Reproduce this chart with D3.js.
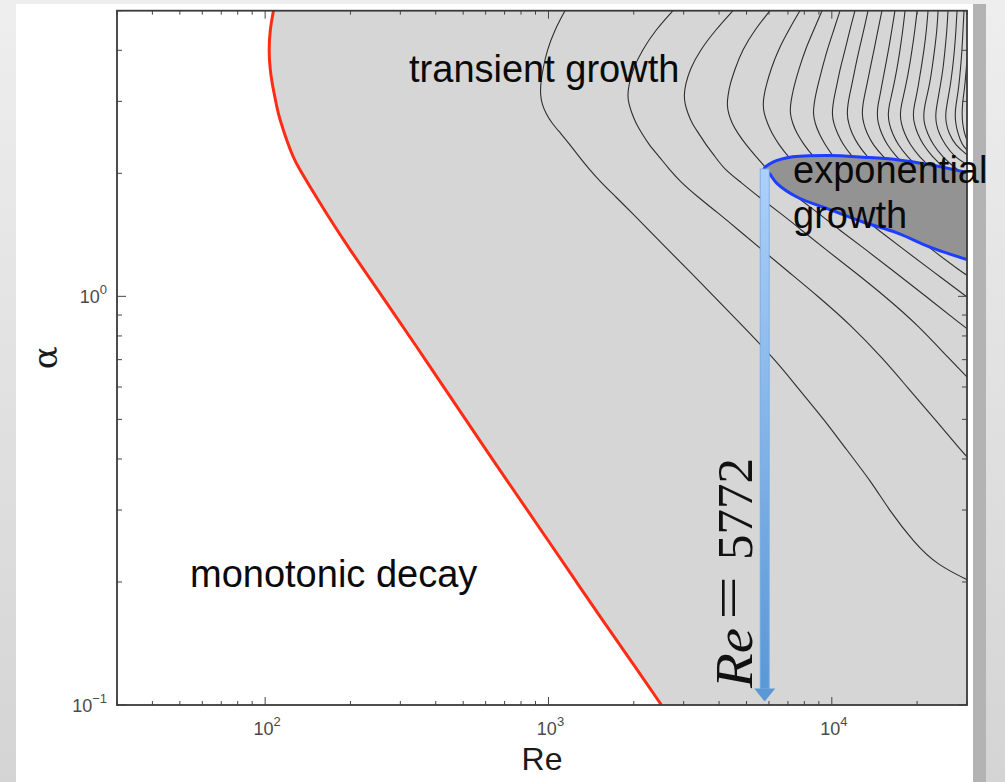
<!DOCTYPE html>
<html><head><meta charset="utf-8">
<script src="https://cdn.jsdelivr.net/npm/d3@7"></script>
<style>
html,body{margin:0;padding:0;}
body{width:1005px;height:782px;overflow:hidden;background:linear-gradient(180deg,#eeeeee,#d4d4d4);}
svg{display:block;}
</style></head><body>
<svg id="chart" width="1005" height="782"></svg>
<script>
// ---------- data ----------
const xDomain = [30, 30000];
const yDomain = [0.1, 5];
const xMajorTicks = [100, 1000, 10000];
const xMajorExponents = ["2", "3", "4"];
const yMajorTicks = [0.1, 1];
const yMajorExponents = ["\u22121", "0"];
const xAxisTitle = "Re";
const yAxisTitle = "\u03b1";

// energy-stability boundary (red)  [Re, alpha]
const redBoundary = [[107,5],[104,4.5],[103,4],[104,3.6],[106,3.3],[108,3.1],[111,2.8],[117,2.5],[125,2.2],[132,2.05],[141,1.9],[164,1.6],[199,1.3],[259,1.0],[368,0.7],[509,0.5],[722,0.35],[1008,0.25],[1255,0.2],[1563,0.16],[1931,0.13],[2504,0.1]];

// neutral curve (blue), upper and lower branch  [Re, alpha]
const neutralUpper = [[5772,2.05],[6200,2.13],[7120,2.19],[9850,2.21],[12880,2.19],[16980,2.16],[22200,2.10],[30000,2.01]];
const neutralLower = [[5772,2.05],[6010,2.00],[6400,1.89],[7530,1.75],[9850,1.63],[12880,1.52],[16980,1.43],[22200,1.32],[30000,1.23]];

// transient-growth contours  [Re, alpha]
const contourA = [[1144,5],[1054,4.5],[988,4],[956,3.6],[937,3.3],[937,3.1],[949,2.95],[980,2.8],[1029,2.65],[1107,2.5],[1191,2.35],[1281,2.2],[1390,2.05],[1532,1.9],[1731,1.75],[1971,1.6],[2263,1.45],[2641,1.3],[3158,1.15],[3838,1.0],[4819,0.85],[6302,0.7],[7537,0.6],[9385,0.5],[11310,0.42],[13866,0.35],[15918,0.3],[19498,0.25],[23500,0.22],[31250,0.2]];
const contourB = [[2750,5],[2396,4.5],[2138,4],[1987,3.6],[1923,3.3],[1900,3.1],[1923,2.95],[1971,2.8],[2036,2.65],[2138,2.5],[2263,2.35],[2455,2.2],[2662,2.05],[2935,1.9],[3369,1.75],[3964,1.6],[4705,1.45],[5668,1.3],[7006,1.15],[8942,1.0],[11682,0.85],[15275,0.7],[18430,0.6],[23135,0.5],[28575,0.42],[31760,0.387]];
const contourC = [[4478,5],[3900,4.5],[3425,4],[3158,3.6],[3044,3.3],[3007,3.1],[3032,2.95],[3107,2.8],[3209,2.65],[3397,2.5],[3596,2.35],[3869,2.2],[4162,2.05],[4782,1.9],[5531,1.75],[6565,1.6],[7845,1.45],[9540,1.3],[11990,1.15],[15400,1.0],[20150,0.85],[26130,0.7],[31000,0.62]];
const contourD = [[6049,5],[5358,4.5],[4820,4],[4552,3.6],[4370,3.3],[4300,3.1],[4265,2.95],[4317,2.8],[4442,2.65],[4667,2.5],[4980,2.35],[5397,2.2],[5903,2.05],[6459,1.9],[7533,1.75],[8942,1.6],[10689,1.45],[13205,1.3],[16570,1.15],[21505,1.0],[28806,0.85],[31000,0.82]];
const contourE = [[7718,5],[7063,4.5],[6459,4],[6098,3.6],[5879,3.3],[5761,3.1],[5714,2.95],[5761,2.8],[5931,2.65],[6148,2.5],[6511,2.35],[7000,2.2],[7718,2.05],[8798,1.9],[10263,1.75],[12167,1.6],[14676,1.45],[17985,1.3],[22763,1.15],[31000,0.98]];
const contourF = [[9237,5],[8655,4.5],[8039,4],[7657,3.6],[7385,3.3],[7237,3.1],[7150,2.95],[7120,2.8],[7267,2.65],[7533,2.5],[7974,2.35],[8586,2.2],[9540,2.05],[11043,1.9],[12880,1.75],[15275,1.6],[18430,1.45],[22579,1.3],[28575,1.15],[31000,1.11]];
const contourG = [[10689,5],[10180,4.5],[9617,4],[9237,3.6],[8942,3.3],[8761,3.1],[8655,2.95],[8586,2.8],[8725,2.65],[9015,2.5],[9462,2.35],[10098,2.2],[11043,2.05],[12671,1.9],[14795,1.75],[17410,1.6],[20982,1.45],[25706,1.3],[30000,1.25]];
const contourH = [[12069,5],[11587,4.5],[11133,4],[10689,3.6],[10432,3.3],[10222,3.1],[10098,2.95],[10016,2.8],[10140,2.65],[10474,2.5],[10953,2.35],[11778,2.2],[12984,2.05],[14795,1.9],[17117,1.75],[20312,1.6],[24490,1.45],[30000,1.33]];
const contourI = [[13420,5],[12984,4.5],[12468,4],[12069,3.6],[11778,3.3],[11540,3.1],[11400,2.95],[11310,2.8],[11445,2.65],[11778,2.5],[12366,2.35],[13311,2.2],[14676,2.05],[16704,1.9],[19500,1.75],[23135,1.6],[30000,1.42]];
const contourJ = [[15028,5],[14557,4.5],[14092,4],[13640,3.6],[13311,3.3],[13043,3.1],[12880,2.95],[12775,2.8],[12932,2.65],[13311,2.5],[13970,2.35],[15152,2.2],[16840,2.05],[19344,1.9],[22579,1.75],[26776,1.6],[30000,1.51]];
const contourK = [[16704,5],[16302,4.5],[15845,4],[15400,3.6],[15028,3.3],[14795,3.1],[14557,2.95],[14440,2.8],[14557,2.65],[14977,2.5],[15653,2.35],[16840,2.2],[18730,2.05],[21331,1.9],[24895,1.75],[30000,1.609]];
const contourL = [[18135,5],[17820,4.5],[17410,4],[16978,3.6],[16570,3.3],[16238,3.1],[15970,2.95],[15780,2.8],[15910,2.65],[16368,2.5],[17117,2.35],[18430,2.2],[20480,2.05],[23135,1.9],[26773,1.75],[30000,1.65]];
const contourM = [[20000,5],[19660,4.5],[19188,4],[18730,3.6],[18280,3.3],[17915,3.1],[17622,2.95],[17410,2.8],[17550,2.65],[18060,2.5],[18884,2.35],[20312,2.2],[22579,2.05],[25706,1.9],[30000,1.77]];
const contourN = [[21860,5],[21593,4.5],[21157,4],[20644,3.6],[20230,3.3],[19900,3.1],[19580,2.95],[19344,2.8],[19500,2.65],[20065,2.5],[20982,2.35],[22579,2.2],[25085,2.05],[30000,1.87]];
const contourO = [[23710,5],[23520,4.5],[23045,4],[22579,3.6],[22130,3.3],[21680,3.1],[21331,2.95],[21072,2.8],[21157,2.65],[21765,2.5],[22763,2.35],[24490,2.2],[27440,2.05],[30000,1.97]];
const contourP = [[25706,5],[25498,4.5],[25085,4],[24690,3.6],[24195,3.3],[23810,3.1],[23520,2.95],[23232,2.8],[23323,2.65],[23905,2.5],[25085,2.35],[26993,2.2],[30000,2.10]];
const contourQ = [[27662,5],[27440,4.5],[27104,4],[26663,3.6],[26233,3.3],[25810,3.1],[25498,2.95],[25189,2.8],[25290,2.65],[25920,2.5],[27216,2.35],[30000,2.22]];
const contourR = [[29280,5],[29045,4.5],[28806,4],[28456,3.6],[28114,3.3],[27773,3.1],[27440,2.95],[27216,2.8],[27330,2.65],[27886,2.5],[28806,2.35],[30000,2.28]];
const contourS = [[30000,3.79],[29520,3.3],[29163,3.1],[28925,2.95],[28806,2.8],[28925,2.65],[29400,2.5],[30000,2.41]];
const contours = [contourA,contourB,contourC,contourD,contourE,contourF,contourG,contourH,contourI,contourJ,contourK,contourL,contourM,contourN,contourO,contourP,contourQ,contourR,contourS];

// critical Reynolds number marker
const criticalRe = 5772;
const arrowTopAlpha = 2.05;
const arrowTipAlpha = 0.102;

// region labels [text, Re, alpha]
const regionLabels = [["transient growth", 322, 3.35],["monotonic decay", 54.3, 0.1945],["exponential", 7296, 1.894],["growth", 7296, 1.47]];

// ---------- drawing ----------
const svg = d3.select("#chart");
const P = {left:117, right:967, top:10.7, bottom:705};
const x = d3.scaleLog().domain(xDomain).range([P.left, P.right]);
const y = d3.scaleLog().domain(yDomain).range([P.bottom, P.top]);

const defs = svg.append("defs");
defs.append("clipPath").attr("id","plotClip").append("rect")
  .attr("x",P.left).attr("y",P.top).attr("width",P.right-P.left).attr("height",P.bottom-P.top);
const grad = defs.append("linearGradient").attr("id","arrowGrad").attr("x1",0).attr("y1",0).attr("x2",0).attr("y2",1);
grad.append("stop").attr("offset","0%").attr("stop-color","#acd0fa");
grad.append("stop").attr("offset","100%").attr("stop-color","#5a98d6");

// slide card + shadow strip
svg.append("rect").attr("x",16).attr("y",4).attr("width",957).attr("height",778).attr("fill","#ffffff");
svg.append("rect").attr("x",973).attr("y",4).attr("width",13).attr("height",778).attr("fill","#b3b3b3");

const plot = svg.append("g").attr("clip-path","url(#plotClip)");

// transient growth region
const areaRight = d3.area().curve(d3.curveBasis)
  .y(d => y(d[1])).x0(d => x(d[0])).x1(P.right + 5);
plot.append("path").datum(redBoundary).attr("d", areaRight).attr("fill","#d6d6d6");

const smooth = d3.line().curve(d3.curveBasis).x(d => x(d[0])).y(d => y(d[1]));
const line = d3.line().curve(d3.curveCatmullRom.alpha(0.5)).x(d => x(d[0])).y(d => y(d[1]));

// contours
plot.selectAll("path.contour").data(contours).join("path")
  .attr("class","contour").attr("d", smooth)
  .attr("fill","none").attr("stroke","#2e2e2e").attr("stroke-width",1.1);

// exponential growth region
const neutral = [...neutralUpper.slice().reverse(), ...neutralLower.slice(1)];
plot.append("path").attr("d", line(neutral) + "Z").attr("fill","#939393");
plot.append("path").attr("d", line(neutral)).attr("fill","none").attr("stroke","#1d3dff").attr("stroke-width",3);

// red boundary
plot.append("path").datum(redBoundary).attr("d", smooth).attr("fill","none")
  .attr("stroke","#ff2b14").attr("stroke-width",3);

// ticks (inward, mirrored)
const isMajor = v => Math.abs(Math.log10(v) - Math.round(Math.log10(v))) < 1e-6;
const tg = svg.append("g").attr("stroke","#444").attr("stroke-width",1);
x.ticks().forEach(v => {
  const L = isMajor(v) ? 8 : 4, px = x(v);
  tg.append("line").attr("x1",px).attr("x2",px).attr("y1",P.bottom).attr("y2",P.bottom-L);
  tg.append("line").attr("x1",px).attr("x2",px).attr("y1",P.top).attr("y2",P.top+L);
});
y.ticks().forEach(v => {
  const L = isMajor(v) ? 9 : 5, py = y(v);
  tg.append("line").attr("y1",py).attr("y2",py).attr("x1",P.left).attr("x2",P.left+L);
  tg.append("line").attr("y1",py).attr("y2",py).attr("x1",P.right).attr("x2",P.right-L);
});

// frame
svg.append("rect").attr("x",P.left).attr("y",P.top).attr("width",P.right-P.left).attr("height",P.bottom-P.top)
  .attr("fill","none").attr("stroke","#3a3a3a").attr("stroke-width",1.8);

// tick labels
const lblFont = "'Liberation Sans', Arial, sans-serif";
xMajorTicks.forEach((v,i) => {
  const t = svg.append("text").attr("x", x(v)+2).attr("y", 735).attr("text-anchor","middle")
    .attr("font-family", lblFont).attr("font-size",18).attr("fill","#4a4a4a");
  t.append("tspan").text("10");
  t.append("tspan").attr("dy",-9).attr("font-size",13).text(xMajorExponents[i]);
});
yMajorTicks.forEach((v,i) => {
  const t = svg.append("text").attr("x", 107).attr("y", y(v)+6.5).attr("text-anchor","end")
    .attr("font-family", lblFont).attr("font-size",18).attr("fill","#4a4a4a");
  t.append("tspan").text("10");
  t.append("tspan").attr("dy",-9).attr("font-size",13).text(yMajorExponents[i]);
});

// axis titles
svg.append("text").attr("x",(P.left+P.right)/2).attr("y",770).attr("text-anchor","middle")
  .attr("font-family",lblFont).attr("font-size",32).attr("fill","#1a1a1a").text(xAxisTitle);
svg.append("text").attr("transform",`translate(57,${(P.top+P.bottom)/2}) rotate(-90)`).attr("text-anchor","middle")
  .attr("font-family","'DejaVu Serif', serif").attr("font-size",34).attr("fill","#1a1a1a").text(yAxisTitle);

// arrow at critical Re
const ax = x(criticalRe), ay0 = y(arrowTopAlpha), ay1 = y(arrowTipAlpha);
const headH = 13, headW = 10.5, shaftW = 9;
svg.append("rect").attr("x", ax - shaftW/2 + 0.5).attr("y", ay0).attr("width", shaftW).attr("height", ay1 - headH - ay0)
  .attr("fill","url(#arrowGrad)").attr("stroke","#79a7df").attr("stroke-width",0.8);
svg.append("path").attr("d", `M${ax-headW+0.5},${ay1-headH} L${ax+headW+0.5},${ay1-headH} L${ax+0.5},${ay1} Z`)
  .attr("fill","#5a98d6");

// Re = 5772 label (rotated)
const rg = svg.append("g").attr("transform",`translate(752,688) rotate(-90)`).attr("fill","#111");
rg.append("text").attr("x",0).attr("y",0).attr("font-family","'Liberation Serif', 'Times New Roman', serif")
  .attr("font-style","italic").attr("font-size",52).attr("textLength",60).attr("lengthAdjust","spacingAndGlyphs").text("Re");
rg.append("text").attr("x",68).attr("y",-6).attr("font-family","'Liberation Serif', serif")
  .attr("font-size",52).attr("textLength",44).attr("lengthAdjust","spacingAndGlyphs").text("=");
rg.append("text").attr("x",128).attr("y",0).attr("font-family","'Liberation Serif', serif")
  .attr("font-size",51).attr("textLength",102).attr("lengthAdjust","spacingAndGlyphs").text(String(criticalRe));

// region labels
svg.selectAll("text.region").data(regionLabels).join("text").attr("class","region")
  .attr("x", d => x(d[1])).attr("y", d => y(d[2]))
  .attr("font-family", lblFont).attr("font-size",38).attr("fill","#0a0a0a").text(d => d[0]);
</script></body></html>
